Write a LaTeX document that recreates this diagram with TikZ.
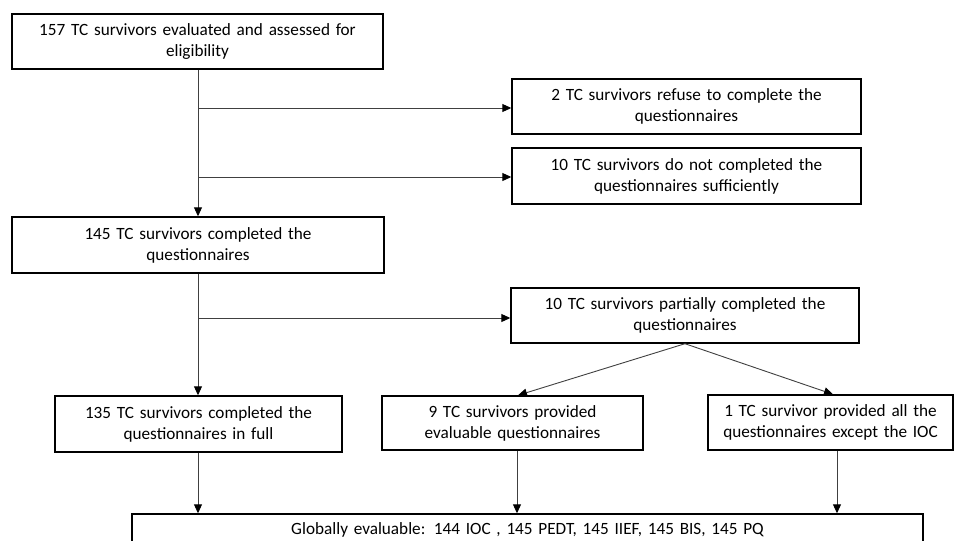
\documentclass[tikz,border=0pt]{standalone}
\usepackage{fontspec}
\setmainfont{Carlito}
\usetikzlibrary{arrows.meta}
\begin{document}
\begin{tikzpicture}[x=1pt,y=-1pt,
  box/.style={draw=black,line width=1.4pt,inner sep=0pt,align=center,
    font=\fontsize{17.2}{21}\selectfont},
  conn/.style={draw=black!75,line width=0.9pt},
  arr/.style={conn,-{Triangle[length=9pt,width=8pt,fill=black,color=black]}}]
\useasboundingbox (0,0) rectangle (954,541);
\clip (0,0) rectangle (954,541);
\node[box,minimum width=371pt,minimum height=55pt,text width=365pt] (b1) at (197.5,41.5)
  {157 TC survivors evaluated and assessed for\\eligibility};
\node[box,minimum width=349pt,minimum height=55pt,text width=345pt] (b2) at (686.5,106.5)
  {2 TC survivors refuse to complete the\\questionnaires};
\node[box,minimum width=349pt,minimum height=56pt,text width=345pt] (b3) at (686.5,176)
  {10 TC survivors do not completed the\\questionnaires sufficiently};
\node[box,minimum width=372pt,minimum height=56pt,text width=365pt] (b4) at (198,245)
  {145 TC survivors completed the\\questionnaires};
\node[box,minimum width=348pt,minimum height=55pt,text width=345pt] (b5) at (685,315.5)
  {10 TC survivors partially completed the\\questionnaires};
\node[box,minimum width=287pt,minimum height=56pt,text width=283pt] (b6) at (198.5,424)
  {135 TC survivors completed the\\questionnaires in full};
\node[box,minimum width=261pt,minimum height=54pt,text width=257pt] (b7) at (512.5,423)
  {9 TC survivors provided\\evaluable questionnaires};
\node[box,minimum width=245pt,minimum height=55pt,text width=243pt] (b8) at (830.5,422.5)
  {1 TC survivor provided all the\\questionnaires except the IOC};
\node[box,minimum width=791pt,minimum height=32pt,text width=780pt] (b9) at (527.5,530)
  {Globally evaluable: 144 IOC , 145 PEDT, 145 IIEF, 145 BIS, 145 PQ};
\coordinate (j1) at (198,108);
\coordinate (j2) at (198,177);
\coordinate (j3) at (198,318);
\draw[arr] (b1.south -| j1) -- (b4.north -| j1);
\draw[arr] (j1) -- (b2.west |- j1);
\draw[arr] (j2) -- (b3.west |- j2);
\draw[arr] (b4.south -| j3) -- (b6.north -| j3);
\draw[arr] (j3) -- (b5.west |- j3);
\draw[arr] (b5.south) -- ([xshift=5.5pt]b7.north);
\draw[arr] (b5.south) -- ([xshift=2.5pt]b8.north);
\draw[arr] (b6.south -| j3) -- (b9.north -| j3);
\draw[arr] ([xshift=4.5pt]b7.south) -- ([xshift=4.5pt]b7.south |- b9.north);
\draw[arr] ([xshift=6.5pt]b8.south) -- ([xshift=6.5pt]b8.south |- b9.north);
\end{tikzpicture}
\end{document}
